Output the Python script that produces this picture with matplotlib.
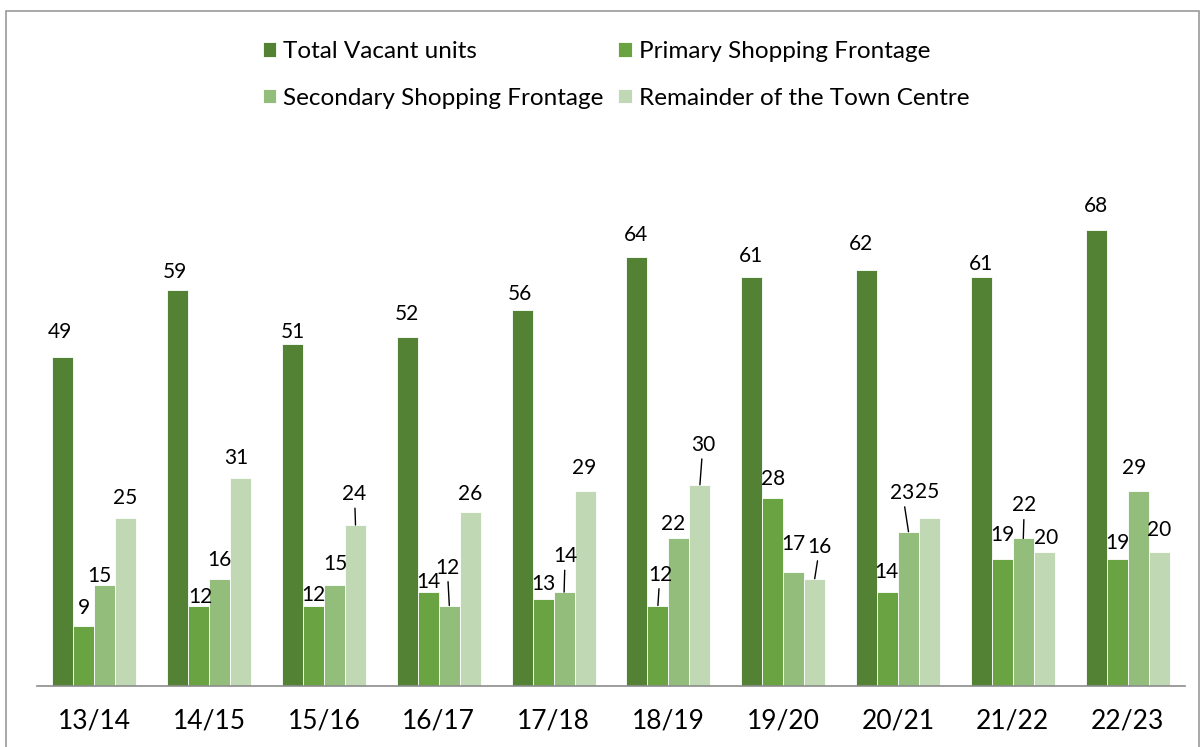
import matplotlib.pyplot as plt
import numpy as np
from matplotlib.patches import Rectangle

plt.rcParams['font.family'] = ['Lato', 'DejaVu Sans']

years = ['13/14', '14/15', '15/16', '16/17', '17/18', '18/19', '19/20', '20/21', '21/22', '22/23']
total_vacant = [49, 59, 51, 52, 56, 64, 61, 62, 61, 68]
primary = [9, 12, 12, 14, 13, 12, 28, 14, 19, 19]
secondary = [15, 16, 15, 12, 14, 22, 17, 23, 22, 29]
remainder = [25, 31, 24, 26, 29, 30, 16, 25, 20, 20]

series_names = ['Total Vacant units', 'Primary Shopping Frontage',
                'Secondary Shopping Frontage', 'Remainder of the Town Centre']
colors = ['#548235', '#6aa342', '#93bd7b', '#c0d8b3']

# label offsets in pixels (dx, dy of text centre above bar top), plus leader line flag
label_offsets = [
    [(-3, 25), (-3, 18), (0, 12), (0, 23), (-2, 16), (-1, 22), (-1, 21), (-5, 26), (0, 13), (0, 24)],
    [(0, 18), (2, 9), (0, 11), (0, 10), (0, 15), (2, 31), (0, 19), (-1, 20), (0, 24), (0, 16)],
    [(-6, 9), (0, 19), (1, 21), (-2, 38), (1, 36), (-6, 14), (0, 28), (-6, 39), (1, 33), (-4, 23)],
    [(-1, 20), (-4, 20), (-1, 31), (0, 18), (-1, 23), (3, 40), (5, 32), (-2, 26), (2, 14), (0, 22)],
]
leaders = [
    [],
    [5],
    [3, 4, 7, 8],
    [2, 5, 6],
]

fig = plt.figure(figsize=(12.04, 7.47), dpi=100)
ax = fig.add_axes([37 / 1204, 61 / 747, 1148 / 1204, 536.6 / 747])

x = np.arange(len(years))
w = 0.183
data = [total_vacant, primary, secondary, remainder]
px2pt = 72 / 100.0

handles = []
for k, vals in enumerate(data):
    pos = x + (k - 1.5) * w
    bars = ax.bar(pos, vals, w, color=colors[k], edgecolor='white', linewidth=0.6,
                  label=series_names[k])
    handles.append(bars)
    for i, v in enumerate(vals):
        dx, dy = label_offsets[k][i]
        ap = None
        if i in leaders[k]:
            ap = dict(arrowstyle='-', color='black', lw=1.0, shrinkA=1, shrinkB=0)
        ax.annotate(str(v), xy=(pos[i], v), xytext=(dx * px2pt, dy * px2pt),
                    textcoords='offset points', ha='center', va='center',
                    fontsize=15, color='black', arrowprops=ap)

ax.set_xlim(-0.5, len(years) - 0.5)
ax.set_ylim(0, 80)
ax.set_xticks(x)
ax.set_xticklabels(years, fontsize=19)
ax.tick_params(axis='x', length=0, pad=16)
ax.set_yticks([])
for s in ['top', 'right', 'left']:
    ax.spines[s].set_visible(False)
ax.spines['bottom'].set_color('#8c8c8c')
ax.spines['bottom'].set_linewidth(1.2)

order = [0, 2, 1, 3]
fig.legend([handles[i] for i in order], [series_names[i] for i in order],
           loc='center', bbox_to_anchor=(616 / 1204, 1 - 75 / 747), ncol=2,
           frameon=False, fontsize=17.5, handlelength=0.55, handleheight=0.55,
           handletextpad=0.3, columnspacing=0.6, labelspacing=1.05)

# outer border of the chart area
fig.patches.append(Rectangle((6 / 1204, -0.02), 1193 / 1204, 1.02 - 11 / 747,
                             transform=fig.transFigure, fill=False,
                             edgecolor='#9a9a9a', linewidth=1.2))

fig.savefig('out.png', dpi=100)
